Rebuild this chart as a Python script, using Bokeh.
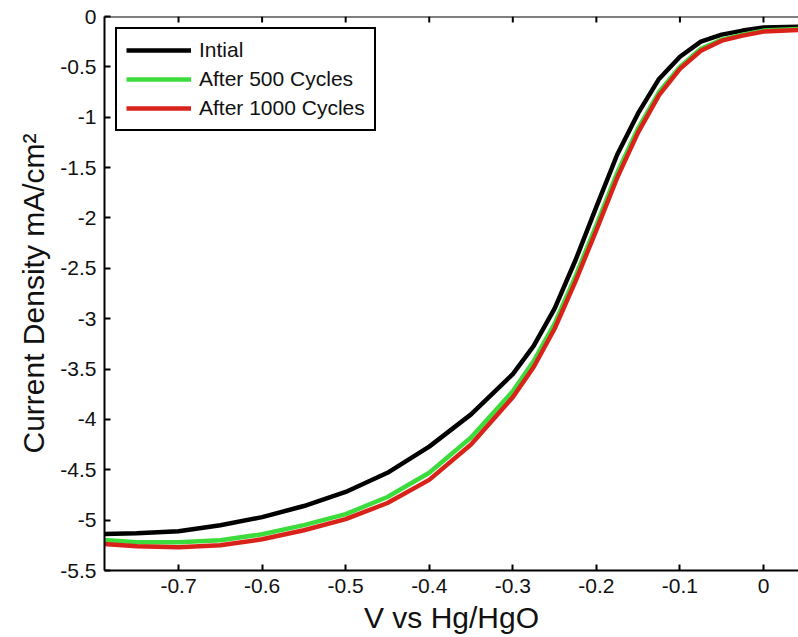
from bokeh.plotting import figure
from bokeh.models import Range1d, FixedTicker, CustomJSTickFormatter, Legend, LegendItem, Span
from bokeh.embed import file_html
from bokeh.resources import INLINE

# ---- data ----
voltage = [-0.80, -0.75, -0.70, -0.65, -0.60, -0.55, -0.50, -0.45, -0.40, -0.35,
           -0.30, -0.275, -0.25, -0.225, -0.20, -0.175, -0.15, -0.125, -0.10,
           -0.075, -0.05, -0.025, 0.0, 0.05]
initial = [-5.14, -5.13, -5.11, -5.05, -4.97, -4.86, -4.72, -4.53, -4.27, -3.95,
           -3.55, -3.27, -2.90, -2.42, -1.89, -1.37, -0.96, -0.62, -0.40,
           -0.25, -0.18, -0.14, -0.11, -0.10]
after500 = [-5.19, -5.22, -5.22, -5.20, -5.14, -5.05, -4.94, -4.77, -4.53, -4.18,
            -3.72, -3.42, -3.05, -2.58, -2.07, -1.55, -1.11, -0.75, -0.50,
            -0.32, -0.23, -0.18, -0.14, -0.12]
after1000 = [-5.23, -5.26, -5.27, -5.25, -5.19, -5.10, -4.99, -4.83, -4.60, -4.25,
             -3.78, -3.48, -3.10, -2.63, -2.12, -1.60, -1.15, -0.78, -0.52,
             -0.34, -0.24, -0.19, -0.15, -0.13]
series_labels = ["Intial", "After 500 Cycles", "After 1000 Cycles"]
series_colors = ["#000000", "#3ddc3d", "#d8221a"]
x_ticks = [-0.7, -0.6, -0.5, -0.4, -0.3, -0.2, -0.1, 0.0]
y_ticks = [0.0, -0.5, -1.0, -1.5, -2.0, -2.5, -3.0, -3.5, -4.0, -4.5, -5.0, -5.5]

FONT = "Liberation Sans"

p = figure(width=798, height=637, output_backend="svg", toolbar_location=None,
           x_range=Range1d(-0.7886, 0.0419), y_range=Range1d(-5.5, 0.0),
           min_border_left=104, min_border_right=0, min_border_top=16, min_border_bottom=67,
           x_axis_label="V vs Hg/HgO", y_axis_label="Current Density mA/cm\u00b2")
p.outline_line_color = None
p.grid.visible = False
p.background_fill_color = "white"
p.border_fill_color = "white"

fmt = CustomJSTickFormatter(code="return String(Number(tick.toFixed(2)));")

for ax, ticks in ((p.xaxis[0], x_ticks), (p.yaxis[0], y_ticks)):
    ax.ticker = FixedTicker(ticks=ticks)
    ax.formatter = fmt
    ax.major_tick_in = 6
    ax.major_tick_out = 0
    ax.minor_tick_line_color = None
    ax.axis_line_width = 2
    ax.major_tick_line_width = 2
    ax.major_label_text_font = FONT
    ax.major_label_text_font_size = "21px"
    ax.major_label_text_color = "#111111"
    ax.axis_label_text_font = FONT
    ax.axis_label_text_font_size = "30px"
    ax.axis_label_text_font_style = "normal"
    ax.axis_label_text_color = "#111111"
p.xaxis[0].major_label_standoff = 8
p.xaxis[0].axis_label_standoff = 5
p.yaxis[0].major_label_standoff = 8
p.yaxis[0].axis_label_standoff = 7

# top edge of the box with inward ticks
p.add_layout(Span(location=0.0, dimension="width", line_color="black", line_width=2))
p.ray(x=x_ticks, y=[y_ticks[0]] * len(x_ticks), length=6, length_units="screen",
      angle=-90, angle_units="deg", line_color="black", line_width=2)

renderers = []
for ys, col in zip((initial, after500, after1000), series_colors):
    r = p.line(voltage, ys, line_color=col, line_width=4.5, line_join="round")
    renderers.append(r)

legend = Legend(items=[LegendItem(label=l, renderers=[r]) for l, r in zip(series_labels, renderers)],
                location="top_left")
legend.margin = 11
legend.padding = 9
legend.spacing = 5
legend.label_height = 20
legend.glyph_height = 20
legend.glyph_width = 65
legend.label_standoff = 8
legend.label_text_font = FONT
legend.label_text_font_size = "21px"
legend.label_text_color = "#111111"
legend.border_line_color = "black"
legend.border_line_alpha = 1.0
legend.border_line_width = 2
legend.background_fill_color = "white"
legend.background_fill_alpha = 1.0
p.add_layout(legend, "center")

open("out.html", "w").write(file_html(p, INLINE))
